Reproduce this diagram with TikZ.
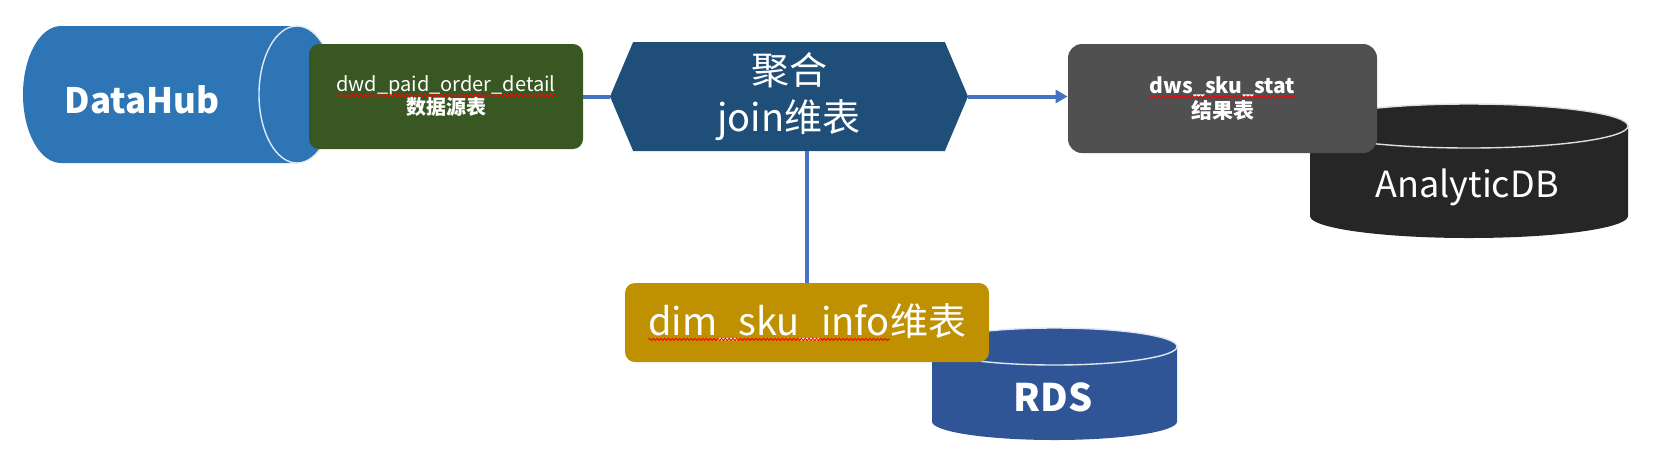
\documentclass[tikz,border=0pt]{standalone}
\usepackage{fontspec}
\setmainfont{Noto Sans CJK SC}
\usetikzlibrary{positioning}
\usetikzlibrary{shapes.symbols, arrows.meta, decorations.pathmorphing}

\definecolor{hubblue}{HTML}{2E75B6}
\definecolor{srcgreen}{HTML}{385723}
\definecolor{aggblue}{HTML}{1F4E79}
\definecolor{resgray}{HTML}{505050}
\definecolor{adbblack}{HTML}{262626}
\definecolor{dimgold}{HTML}{BF9000}
\definecolor{rdsblue}{HTML}{2F5597}
\definecolor{linkblue}{HTML}{4472C4}

% red wavy mark of the spell checker
\newcommand{\typo}[1]{\tikz[baseline=(tw.base)]{\node[rectangle, draw=none, fill=none, sharp corners,
 		minimum width=0pt, minimum height=0pt, inner sep=0pt, outer sep=0pt] (tw) {#1};
 	\draw[red, fill=none, line width=0.45pt, sharp corners, decorate,
 		decoration={snake, amplitude=0.55pt, segment length=1.9pt}]
 	([yshift=-1.8pt]tw.base west) -- ([yshift=-1.8pt]tw.base east);}}

\begin{document}
\begin{tikzpicture}[x=0.5pt, y=-0.5pt]

 \tikzset{table box/.style={
 		rounded corners=5pt,
 		text=white,
 		align=center,
 		inner sep=0pt,
 		minimum height=#1
 	},
 	table box/.default=52pt,
 	rim/.style={draw=white!85!#1, line width=0.7pt},
 	store label/.style={text=white, inner sep=0pt},
 	link/.style={draw=linkblue, line width=2pt}
 }
 \useasboundingbox (0,0) rectangle (1654,468);
 % DataHub, lying
 \fill[hubblue] (61,26) -- (297,26) arc[start angle=-90, end angle=90, x radius=38, y radius=68.5]
 	-- (61,163) arc[start angle=90, end angle=270, x radius=38, y radius=68.5] -- cycle;
 \draw[rim=hubblue] (297,94.5) ellipse[x radius=38, y radius=68.5];
 \node[store label, font=\fontsize{17.5}{20}\selectfont\bfseries] (datahub) at (142,100) {DataHub};
 % AnalyticDB
 \fill[adbblack] (1310,126) -- (1310,216) arc[start angle=180, end angle=0, x radius=159, y radius=22]
 	-- (1628,126) arc[start angle=0, end angle=-180, x radius=159, y radius=22] -- cycle;
 \draw[rim=adbblack] (1469,126) ellipse[x radius=159, y radius=22];
 \node[store label, font=\fontsize{18}{20}\selectfont] (adb) at (1467,187) {AnalyticDB};
 % RDS
 \fill[rdsblue] (932,346.5) -- (932,421.5) arc[start angle=180, end angle=0, x radius=122.5, y radius=18.5]
 	-- (1177,346.5) arc[start angle=0, end angle=-180, x radius=122.5, y radius=18.5] -- cycle;
 \draw[rim=rdsblue] (1054.5,346.5) ellipse[x radius=122.5, y radius=18.5];
 \node[store label, font=\fontsize{19}{21}\selectfont\bfseries] (rds) at (1053,397) {RDS};
 % tables
 \node[table box=52.5pt, fill=srcgreen, minimum width=137pt,
 	font=\fontsize{10}{11.5}\selectfont] (src) at (446,96.5)
 	{\typo{dwd\_paid\_order\_detail}\\\textbf{数据源表}};
 \node[signal, signal to=west and east, signal pointer angle=134, fill=aggblue, text=white,
 	align=center, inner sep=0pt, minimum width=179pt, minimum height=54.5pt,
 	font=\fontsize{19}{23.5}\selectfont] (agg) at (789,96.5) {聚合\\join维表};
 \node[table box=54.5pt, rounded corners=7pt, fill=resgray, minimum width=154.5pt,
 	font=\fontsize{10.5}{11.5}\selectfont\bfseries] (res) at (1222.5,98.5)
 	{\typo{dws\_sku\_stat}\\结果表};
 \node[table box=39.5pt, fill=dimgold, minimum width=182pt,
 	font=\fontsize{19}{21}\selectfont] (dim) at (807,322.5)
 	{\typo{dim\_sku\_info}维表};
 % links
 \draw[link] (src.east) -- (agg.west);
 \draw[link, -{Triangle[length=6pt, width=6.5pt]}] (agg.east) -- (agg.east -| res.west);
 \draw[link] (dim.north) -- (dim.north |- agg.south);
\end{tikzpicture}
\end{document}
